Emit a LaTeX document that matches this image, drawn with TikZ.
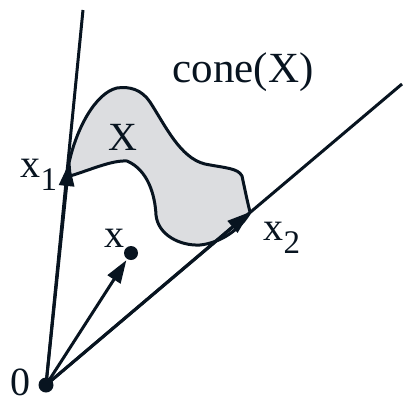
\documentclass[tikz,border=0pt]{standalone}
\usepackage{fontspec}
\setmainfont{Liberation Serif}
\usetikzlibrary{arrows.meta}

\definecolor{inkblue}{RGB}{8,20,32}
\definecolor{blobgray}{RGB}{220,221,224}

\newcommand{\subidx}[1]{\raisebox{-13pt}{\fontsize{33}{33}\selectfont #1}}

\begin{document}
\begin{tikzpicture}[
  x=1pt, y=-1pt,
  color=inkblue,
  line width=3pt,
  lbl/.style={
    font=\fontsize{40}{40}\selectfont,
    inner sep=0pt,
    anchor=base west
  },
  vec/.style={-{Triangle[length=23pt,width=15pt]}},
  dot/.style={circle, fill, inner sep=0pt, minimum size=15pt}
]
\useasboundingbox (0,0) rectangle (403,402);

% --- Points ---
\node[dot] (O) at (46,385) {};
\node[dot, minimum size=14pt] (x) at (131,253) {};
\coordinate (x1) at (69,163);
\coordinate (x2) at (250,212);
\coordinate (top1) at (83,10);
\coordinate (top2) at (402,84);

% --- Set X ---
\draw[fill=blobgray, line join=round] (70,176) -- (69,163)
  .. controls (76,130) and (95,93) .. (117,88)
  .. controls (130,86) and (142,90) .. (150,102)
  .. controls (165,125) and (180,158) .. (205,164)
  .. controls (225,168) and (238,168) .. (242,176)
  .. controls (245,190) and (247,200) .. (250,212)
  .. controls (240,230) and (220,243) .. (200,245)
  .. controls (180,246) and (158,235) .. (156,215)
  .. controls (155,195) and (148,170) .. (127,161)
  .. controls (112,160) and (90,170) .. (70,176);

% --- Cone rays ---
\draw (O.center) -- (top1);
\draw (O.center) -- (top2);
\draw[vec] (O.center) -- (x1);
\draw[vec] (O.center) -- (x2);
\draw[vec] (O.center) -- (x);

% --- Labels ---
\node[lbl, font=\fontsize{43}{43}\selectfont] (lcone) at (171,82) {cone(X)};
\node[lbl] (lset) at (107,150) {X};
\node[lbl] (lx1) at (19,177) {x\subidx{1}};
\node[lbl] (lx2) at (262,240) {x\subidx{2}};
\node[lbl] (lx) at (103,247) {x};
\node[lbl] (lO) at (9,395) {0};

\end{tikzpicture}
\end{document}
